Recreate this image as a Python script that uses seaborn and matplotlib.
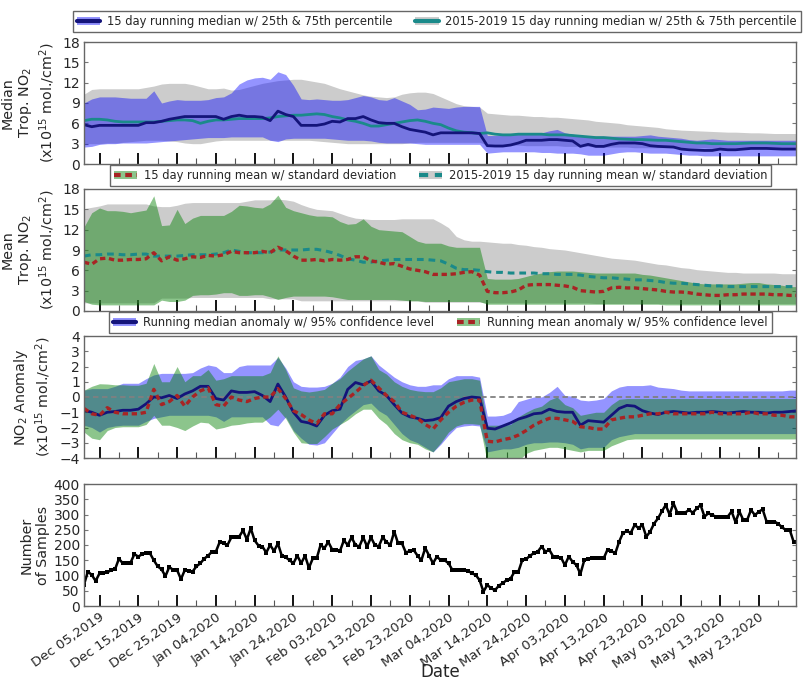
import numpy as np
import pandas as pd
import matplotlib
matplotlib.use("Agg")
import matplotlib.pyplot as plt
from matplotlib.patches import Patch
from matplotlib.lines import Line2D
import seaborn as sns

# ---------------------------------------------------------------- data
start = pd.Timestamp("2019-12-01")
dates = pd.date_range(start, periods=93, freq="2D")          # 15-day running stats, every 2nd day
count_dates = pd.date_range(start, periods=184, freq="D")    # daily sample counts

# Panel 1: running median and 25th/75th percentiles (x1e15 mol/cm2)
med_2020 = [5.8, 5.5, 5.7, 5.7, 5.7, 5.7, 5.7, 5.7, 6.1, 6.1, 6.3, 6.6, 6.8, 7.0, 7.0, 7.0, 7.0, 7.0, 6.6, 7.0,
            7.2, 7.0, 7.0, 6.9, 6.4, 7.8, 7.3, 7.0, 5.7, 5.7, 5.7, 5.9, 6.3, 6.2, 6.7, 6.7, 7.0, 6.5, 6.1, 6.0,
            6.0, 5.5, 5.1, 4.9,
            4.7, 4.3, 4.6, 4.6, 4.6, 4.6, 4.6, 4.5, 2.7, 2.65, 2.65, 2.8, 3.1, 3.5, 3.5, 3.5, 3.6, 3.6,
            3.5, 3.4, 2.6, 2.9, 2.6, 2.6, 2.9, 3.1, 3.1, 3.1, 3.0, 2.7, 2.6, 2.55, 2.5, 2.2, 2.1, 2.05, 2.0, 2.0,
            2.2, 2.1, 2.1, 2.2, 2.3, 2.3, 2.3, 2.25, 2.2, 2.2, 2.2]
q75_2020 = [9.0, 9.6, 9.9, 9.9, 9.9, 9.8, 9.7, 9.7, 9.7, 10.8, 9.0, 9.3, 9.5, 9.4, 9.4, 9.4, 9.5, 9.8, 9.9, 10.5,
            11.8, 12.4, 12.7, 12.8, 12.5, 13.6, 13.2, 11.6, 9.6, 9.5, 9.6, 9.5, 9.4, 9.4, 9.5, 9.8, 10.1, 9.9, 9.5, 9.4,
            9.8, 9.3, 8.8, 8.0,
            8.1, 8.4, 8.3, 8.2, 8.4, 8.5, 8.5, 8.5, 4.2, 4.2, 4.3, 4.3, 4.4, 4.4, 4.5, 4.6, 4.9, 5.1,
            4.6, 4.4, 4.2, 4.1, 4.1, 4.1, 4.1, 4.1, 4.1, 4.1, 4.2, 4.3, 4.1, 4.0, 3.9, 3.8, 3.6, 3.5, 3.6, 3.7,
            3.6, 3.5, 3.5, 3.5, 3.5, 3.5, 3.5, 3.5, 3.5, 3.5, 3.5]
q25_2020 = [2.5, 2.6, 2.9, 3.0, 3.0, 3.1, 3.1, 3.1, 3.1, 3.2, 3.3, 3.4, 3.5, 3.6, 3.7, 3.8, 3.9, 3.9, 3.9, 4.0,
            4.0, 4.0, 4.0, 4.0, 3.5, 3.3, 3.7, 3.8, 3.8, 3.8, 3.8, 3.8, 3.7, 3.6, 3.5, 3.5, 3.5, 3.4, 3.2, 3.1,
            3.1, 3.1, 3.1, 3.0,
            2.9, 2.9, 2.9, 2.9, 2.9, 2.9, 2.9, 2.9, 1.6, 1.7, 1.8, 1.8, 1.8, 1.8, 1.8, 1.7, 1.7, 1.6,
            1.6, 1.6, 1.5, 1.3, 1.3, 1.3, 1.5, 1.7, 1.8, 1.8, 1.7, 1.6, 1.6, 1.6, 1.5, 1.4, 1.3, 1.3, 1.2, 1.2,
            1.2, 1.2, 1.2, 1.2, 1.2, 1.2, 1.2, 1.2, 1.2, 1.2, 1.2]
med_clim = [6.4, 6.6, 6.6, 6.5, 6.3, 6.2, 6.2, 6.2, 6.2, 6.2, 6.3, 6.4, 6.5, 6.5, 6.4, 6.0, 6.3, 6.5, 6.5, 6.6,
            6.7, 6.7, 6.7, 6.7, 6.8, 7.0, 7.1, 7.2, 7.2, 7.3, 7.4, 7.3, 7.0, 6.8, 6.5, 6.3, 6.0, 5.6, 5.6, 5.8,
            6.0, 6.2, 6.4, 6.5,
            6.3, 6.0, 5.8, 5.3, 4.9, 4.7, 4.6, 4.5, 4.6, 4.4, 4.3, 4.3, 4.4, 4.4, 4.4, 4.4, 4.3, 4.3,
            4.3, 4.2, 4.1, 4.0, 3.9, 3.9, 3.8, 3.7, 3.65, 3.6, 3.6, 3.55, 3.5, 3.5, 3.4, 3.3, 3.2, 3.1, 3.1, 3.0,
            3.0, 3.0, 3.0, 3.05, 3.1, 3.1, 3.1, 3.05, 3.0, 3.0, 3.0]
q75_clim = [10.3, 11.0, 11.1, 11.1, 11.1, 11.1, 11.1, 11.1, 11.3, 11.5, 11.8, 11.9, 11.9, 11.9, 11.7, 11.4, 11.1, 11.1, 11.2, 10.9,
            11.0, 11.3, 11.6, 11.9, 12.1, 12.3, 12.4, 12.5, 12.5, 12.3, 12.1, 11.9, 11.5, 11.1, 10.8, 10.5, 10.2, 10.0, 9.9, 9.8,
            9.9, 10.3, 10.5, 10.6,
            10.6, 10.4, 9.9, 9.4, 8.9, 8.6, 8.5, 8.4, 7.5, 7.4, 7.3, 7.2, 7.2, 7.1, 7.0, 7.0, 6.9, 6.9,
            6.8, 6.7, 6.6, 6.5, 6.3, 6.2, 6.1, 6.0, 5.8, 5.7, 5.6, 5.5, 5.4, 5.2, 5.1, 5.0, 4.95, 4.9, 4.85, 4.8,
            4.75, 4.7, 4.7, 4.65, 4.6, 4.6, 4.55, 4.5, 4.5, 4.5, 4.5]
q25_clim = [3.0, 3.0, 3.0, 3.1, 3.1, 3.2, 3.3, 3.4, 3.5, 3.5, 3.5, 3.4, 3.3, 3.1, 3.0, 3.0, 3.2, 3.4, 3.5, 3.5,
            3.5, 3.5, 3.5, 3.5, 3.5, 3.5, 3.5, 3.5, 3.5, 3.5, 3.4, 3.3, 3.2, 3.1, 3.0, 3.0, 3.0, 3.0, 3.0, 3.0,
            3.0, 3.0, 3.1, 3.2,
            3.2, 3.2, 3.2, 3.2, 3.2, 3.2, 3.2, 3.2, 2.8, 2.8, 2.8, 2.8, 2.8, 2.7, 2.7, 2.7, 2.7, 2.7,
            2.6, 2.6, 2.6, 2.6, 2.5, 2.5, 2.5, 2.5, 2.5, 2.4, 2.4, 2.4, 2.4, 2.4, 2.4, 2.4, 2.4, 2.4, 2.4, 2.3,
            2.3, 2.3, 2.3, 2.3, 2.3, 2.3, 2.3, 2.3, 2.3, 2.3, 2.3]

# Panel 2: running mean and mean +/- standard deviation
mean_2020 = [7.2, 6.9, 7.7, 7.8, 7.5, 7.5, 7.6, 7.6, 7.7, 8.6, 7.4, 8.0, 7.5, 7.7, 8.0, 7.9, 8.2, 8.1, 8.3, 8.8,
             8.6, 8.6, 8.6, 8.8, 8.6, 9.4, 8.9, 8.1, 7.5, 7.5, 7.6, 7.4, 7.6, 7.5, 7.6, 8.0, 8.0, 7.4, 7.2, 6.9,
             7.0, 6.6, 6.2, 6.0,
             5.8, 5.4, 5.4, 5.4, 5.5, 5.7, 5.8, 5.3, 2.9, 2.7, 2.7, 2.8, 3.1, 3.8, 3.9, 3.9, 3.9, 3.8,
             3.7, 3.5, 3.0, 2.9, 2.8, 2.9, 3.4, 3.5, 3.4, 3.4, 3.3, 3.2, 3.1, 2.9, 2.8, 2.8, 2.7, 2.5, 2.4, 2.3,
             2.3, 2.4, 2.4, 2.5, 2.5, 2.5, 2.5, 2.4, 2.4, 2.3, 2.3]
mean_2020_hi = [12.4, 14.5, 15.2, 14.8, 14.8, 14.7, 14.5, 14.7, 14.9, 17.0, 12.6, 12.7, 15.0, 12.9, 13.7, 14.1, 14.1, 14.1, 14.1, 14.7,
                15.6, 15.5, 15.3, 15.2, 15.8, 17.1, 15.3, 14.8, 14.5, 14.2, 14.0, 14.0, 13.9, 13.2, 12.8, 12.9, 13.6, 12.5, 12.0, 11.9,
                11.8, 11.7, 11.0, 10.3,
                10.0, 10.0, 10.0, 9.6, 9.4, 9.4, 9.4, 9.4, 4.8, 4.7, 4.7, 4.7, 4.8, 5.1, 5.4, 5.6, 5.8, 5.9,
                5.9, 5.9, 5.8, 5.7, 5.6, 5.6, 5.6, 5.6, 5.6, 5.6, 5.4, 5.3, 5.1, 4.9, 4.7, 4.5, 4.3, 4.1, 4.0, 4.0,
                4.0, 4.0, 4.0, 4.1, 4.2, 4.2, 4.0, 3.9, 3.8, 3.6, 3.6]
mean_2020_lo = [1.4, 1.0, 0.9, 0.9, 0.9, 0.9, 0.9, 0.9, 0.9, 0.9, 1.6, 1.4, 1.4, 1.6, 2.3, 2.4, 2.4, 2.5, 2.7, 2.7,
                2.3, 2.3, 2.4, 2.4, 2.1, 1.7, 2.0, 2.2, 2.2, 2.2, 2.2, 2.2, 2.1, 1.9, 1.7, 1.7, 1.7, 1.7, 1.7, 1.7,
                1.7, 1.6, 1.5, 1.5,
                1.4, 1.4, 1.4, 1.4, 1.4, 1.4, 1.4, 1.4, 1.0, 1.0, 1.0, 1.0, 1.0, 1.0, 1.0, 1.0, 1.0, 1.0,
                1.0, 1.0, 1.0, 1.0, 1.0, 1.0, 1.0, 1.0, 1.0, 1.0, 1.0, 1.0, 1.0, 0.9, 0.9, 0.9, 0.9, 0.9, 0.9, 0.9,
                0.9, 0.9, 0.9, 0.9, 0.9, 0.9, 0.9, 0.9, 0.9, 0.9, 0.9]
mean_clim = [8.1, 8.3, 8.3, 8.4, 8.4, 8.3, 8.3, 8.4, 8.4, 8.1, 8.1, 8.1, 8.1, 8.2, 8.3, 8.3, 8.3, 8.4, 8.6, 9.0,
             8.8, 8.6, 8.6, 8.6, 8.7, 9.0, 9.0, 9.0, 9.0, 9.1, 9.1, 8.9, 8.6, 8.2, 7.7, 7.5, 7.2, 7.2, 7.4, 7.5,
             7.6, 7.6, 7.6, 7.6,
             7.6, 7.5, 7.4, 6.9, 6.3, 6.1, 6.1, 6.0, 5.8, 5.7, 5.7, 5.6, 5.6, 5.6, 5.6, 5.5, 5.5, 5.4,
             5.4, 5.4, 5.3, 5.1, 5.0, 4.9, 4.9, 4.8, 4.7, 4.6, 4.6, 4.5, 4.4, 4.2, 4.1, 4.1, 4.0, 3.9, 3.8, 3.7,
             3.7, 3.6, 3.6, 3.6, 3.6, 3.6, 3.6, 3.6, 3.6, 3.6, 3.6]
mean_clim_hi = [15.1, 15.3, 15.5, 15.8, 15.8, 15.8, 15.8, 15.8, 15.8, 15.5, 15.4, 15.4, 15.6, 15.9, 16.0, 16.0, 16.0, 16.0, 16.0, 16.0,
                16.0, 16.2, 16.4, 16.4, 16.4, 16.5, 16.4, 16.2, 15.7, 15.3, 15.0, 14.9, 14.8, 14.4, 14.0, 13.7, 13.6, 13.5, 13.5, 13.5,
                13.5, 13.6, 13.6, 13.6,
                13.6, 13.6, 13.0, 12.3, 11.0, 10.5, 10.3, 10.3, 10.2, 10.1, 10.0, 10.0, 9.8, 9.7, 9.5, 9.4, 9.2, 9.1,
                9.0, 8.8, 8.6, 8.4, 8.2, 8.0, 7.8, 7.7, 7.6, 7.5, 7.3, 7.1, 6.9, 6.8, 6.6, 6.4, 6.3, 6.1, 6.0, 5.9,
                5.8, 5.7, 5.7, 5.6, 5.6, 5.6, 5.6, 5.6, 5.5, 5.5, 5.5]
mean_clim_lo = [1.2, 1.2, 1.2, 1.2, 1.2, 1.2, 1.2, 1.2, 1.2, 1.2, 1.9, 1.9, 1.9, 1.9, 2.0, 2.0, 2.0, 2.0, 2.0, 2.0,
                2.0, 2.0, 2.0, 2.0, 1.8, 1.8, 1.8, 1.8, 1.5, 1.5, 1.5, 1.5, 1.5, 1.5, 1.5, 1.5, 1.5, 1.5, 1.5, 1.5,
                1.5, 1.5, 1.5, 1.5,
                1.3, 1.3, 1.3, 1.3, 1.3, 1.3, 1.3, 1.3, 1.2, 1.2, 1.2, 1.2, 1.2, 1.2, 1.2, 1.2, 1.2, 1.2,
                1.2, 1.2, 1.2, 1.2, 1.1, 1.1, 1.1, 1.1, 1.1, 1.1, 1.1, 1.1, 1.1, 1.1, 1.1, 1.1, 1.1, 1.1, 1.1, 1.1,
                1.1, 1.1, 1.1, 1.1, 1.1, 1.1, 1.1, 1.1, 1.1, 1.1, 1.1]

# Panel 3: anomalies (2020 minus 2015-2019) with 95% confidence level
med_anom = [-0.87, -1.0, -1.2, -1.0, -0.95, -0.87, -0.87, -0.8, -0.45, 0.0, -0.05, 0.1, -0.1, 0.2, 0.4, 0.7, 0.7, -0.1, -0.2, 0.4,
            0.3, 0.3, 0.35, 0.1, -0.3, 0.85, 0.0, -1.0, -1.6, -1.7, -1.9, -1.2, -0.9, -0.8, 0.5, 0.95, 0.8, 1.05, 0.4, 0.1,
            -0.5, -1.05, -1.3, -1.4,
            -1.55, -1.5, -1.35, -0.6, -0.3, -0.1, 0.0, -0.05, -2.05, -2.1, -1.9, -1.7, -1.45, -1.3, -1.1, -1.05, -0.8, -0.95,
            -1.0, -1.0, -1.85, -1.55, -1.6, -1.65, -1.2, -0.75, -0.55, -0.6, -0.9, -1.05, -1.15, -1.0, -0.95, -1.0, -1.05, -1.0, -1.0, -0.95,
            -1.0, -1.05, -1.0, -0.95, -1.0, -1.0, -1.05, -1.0, -1.0, -0.95, -0.9]
med_anom_hi = [0.45, 0.55, 0.55, 0.55, 0.7, 0.9, 0.9, 0.9, 1.2, 1.45, 1.55, 1.55, 1.55, 1.55, 1.6, 1.9, 2.1, 2.0, 1.6, 1.6,
               2.0, 2.1, 2.1, 2.1, 2.1, 2.6, 1.9, 1.0, 0.7, 0.65, 0.65, 0.7, 0.9, 1.3, 2.0, 2.4, 2.5, 2.7, 2.1, 1.7,
               1.3, 1.0, 0.8, 0.7,
               0.7, 0.8, 0.8, 1.2, 1.4, 1.4, 1.4, 1.3, -1.25, -1.25, -1.2, -1.0, -0.3, -0.15, 0.0, 0.0, 0.3, 0.7,
               0.1, 0.05, -0.2, -0.25, -0.2, -0.1, 0.4, 0.65, 0.75, 0.75, 0.75, 0.8, 0.65, 0.6, 0.55, 0.45, 0.4, 0.4, 0.4, 0.4,
               0.4, 0.4, 0.4, 0.4, 0.4, 0.4, 0.4, 0.4, 0.4, 0.45, 0.45]
med_anom_lo = [-1.85, -2.0, -2.3, -2.0, -1.9, -1.85, -1.85, -1.85, -1.6, -1.4, -1.3, -1.2, -1.2, -1.2, -1.2, -1.2, -1.2, -1.3, -1.6, -1.3,
               -1.3, -1.3, -1.3, -1.3, -1.8, -1.9, -1.3, -2.2, -2.7, -3.1, -3.15, -3.0, -2.4, -1.8, -1.3, -0.9, -0.5, -0.4, -0.9, -1.2,
               -1.8, -2.4, -2.8, -3.0,
               -3.3, -3.6, -3.1, -2.5, -2.0, -1.9, -1.85, -1.9, -3.6, -3.5, -3.4, -3.4, -3.3, -3.1, -3.0, -3.0, -2.95, -2.95,
               -3.0, -3.1, -3.4, -3.3, -3.3, -3.3, -2.8, -2.6, -2.5, -2.4, -2.4, -2.4, -2.4, -2.4, -2.4, -2.4, -2.4, -2.4, -2.4, -2.4,
               -2.4, -2.4, -2.4, -2.4, -2.4, -2.4, -2.4, -2.4, -2.4, -2.4, -2.4]
mean_anom = [-0.75, -1.1, -1.2, -0.7, -1.0, -1.1, -1.1, -1.1, -1.0, 0.5, -0.5, -0.3, 0.1, -0.6, 0.0, 0.4, 0.6, -0.5, -0.6, 0.0,
             -0.2, -0.3, -0.1, 0.0, 0.0, 0.55, -0.1, -0.9, -1.15, -1.5, -1.75, -1.1, -1.1, -0.5, -0.1, 0.3, 0.75, 1.1, 0.6, 0.1,
             -0.3, -1.0, -1.2, -1.4,
             -1.8, -2.1, -1.5, -1.0, -0.6, -0.35, -0.2, -0.2, -2.9, -2.95, -2.8, -2.7, -2.5, -2.2, -1.85, -1.6, -1.4, -1.4,
             -1.5, -1.6, -1.95, -2.0, -2.1, -2.1, -1.5, -1.4, -1.3, -1.3, -1.2, -1.1, -1.1, -1.0, -1.1, -1.1, -1.1, -1.1, -1.1, -1.0,
             -1.1, -1.1, -1.1, -1.1, -1.0, -1.1, -1.1, -1.2, -1.2, -1.3, -1.3]
mean_anom_hi = [0.45, 0.7, 0.87, 0.85, 0.8, 0.8, 0.77, 0.77, 0.9, 2.2, 1.0, 1.0, 2.0, 1.0, 1.4, 1.4, 1.8, 1.1, 1.2, 1.4,
                1.4, 1.4, 1.4, 1.4, 1.6, 2.7, 1.8, 0.6, 0.4, 0.33, 0.4, 0.5, 0.9, 1.2, 1.7, 2.1, 2.5, 2.7, 1.8, 1.5,
                1.0, 0.7, 0.5, 0.4,
                0.35, 0.35, 0.6, 1.0, 1.1, 1.2, 1.2, 1.1, -1.85, -1.85, -1.85, -1.8, -1.3, -1.0, -0.75, -0.6, -0.2, 0.0,
                -0.5, -0.7, -1.2, -1.1, -1.0, -1.0, -0.5, -0.15, -0.1, -0.1, -0.1, -0.1, -0.1, -0.1, -0.1, -0.1, -0.1, -0.1, -0.1, -0.1,
                -0.1, -0.1, -0.1, -0.1, -0.1, -0.1, -0.1, -0.1, -0.1, -0.1, -0.1]
mean_anom_lo = [-2.3, -2.7, -2.8, -2.2, -2.0, -1.95, -1.95, -1.95, -1.8, -1.2, -1.85, -1.85, -2.0, -2.2, -1.9, -1.65, -1.7, -2.1, -2.0, -1.85,
                -1.8, -1.7, -1.65, -1.65, -1.3, -0.8, -1.4, -2.3, -3.0, -3.05, -3.05, -2.6, -2.1, -1.8, -1.5, -1.1, -0.8, -0.8, -1.4, -1.8,
                -2.4, -2.8, -3.0, -3.1,
                -3.4, -3.6, -3.0, -2.3, -1.9, -1.75, -1.75, -1.8, -4.3, -4.3, -4.3, -4.3, -4.2, -3.7, -3.5, -3.4, -3.3, -3.3,
                -3.4, -3.5, -3.6, -3.5, -3.5, -3.5, -3.2, -3.0, -2.8, -2.75, -2.75, -2.75, -2.75, -2.75, -2.75, -2.75, -2.75, -2.75, -2.75, -2.75,
                -2.75, -2.75, -2.75, -2.75, -2.75, -2.75, -2.75, -2.75, -2.75, -2.75, -2.75]

# Panel 4: number of valid samples per day
n_samples = [70, 113, 102, 82, 107, 108, 110, 118, 120, 155, 140, 140, 142, 170, 162, 170, 173, 173, 150, 130,
             120, 98, 128, 118, 118, 88, 118, 115, 113, 130, 140, 155, 165, 178, 178, 210, 205, 200, 225, 226,
             227, 248, 218, 255, 215, 198, 195, 175, 200, 180, 205, 165, 160, 150, 140, 165, 140, 165, 125, 156,
             156, 200, 190, 210, 185, 182, 180, 215, 200, 225, 200, 195, 225, 195, 225, 200, 195, 225, 210, 200,
             244, 205, 205, 175, 180, 184, 165, 150, 190, 165, 140, 162, 150, 150, 140, 118, 118, 118, 118, 116,
             107, 102, 85, 47, 69, 58, 52, 67, 75, 85, 90, 112, 112, 150, 153, 165, 173, 178, 195, 178,
             184, 162, 161, 159, 134, 162, 145, 134, 105, 150, 155, 156, 156, 156, 156, 185, 180, 173, 211, 240,
             245, 240, 266, 255, 266, 227, 244, 270, 287, 310, 331, 300, 337, 306, 306, 306, 315, 306, 320, 331,
             293, 304, 298, 293, 293, 293, 293, 310, 275, 310, 282, 282, 315, 298, 309, 317, 277, 277, 277, 270,
             258, 249, 249, 210]

tick_dates = pd.date_range("2019-12-05", periods=18, freq="10D")
minor_dates = pd.date_range("2019-12-10", periods=18, freq="10D")
tick_labels = ["Dec 05,2019", "Dec 15,2019", "Dec 25,2019", "Jan 04,2020", "Jan 14,2020", "Jan 24,2020",
               "Feb 03,2020", "Feb 13,2020", "Feb 23,2020", "Mar 04,2020", "Mar 14,2020", "Mar 24,2020",
               "Apr 03,2020", "Apr 13,2020", "Apr 23,2020", "May 03,2020", "May 13,2020", "May 23,2020"]

# ---------------------------------------------------------------- style
sns.set_style("white")
plt.rcParams["font.family"] = ["DejaVu Sans"]
plt.rcParams["axes.edgecolor"] = "#666666"
plt.rcParams["axes.linewidth"] = 1.0

NAVY = "#14147a"
TEAL = "#1a8a8a"
RED = "#a82424"
BLUE_BAND = dict(color="blue", alpha=0.42, lw=0)
GREY_BAND = dict(color="grey", alpha=0.40, lw=0)
GREEN_BAND = dict(color="green", alpha=0.45, lw=0)
DOTS = (0, (1.6, 1.1))
DASH = (0, (2.2, 1.6))
YLAB = dict(fontsize=10.3, linespacing=1.2)

fig = plt.figure(figsize=(8.07, 6.82), dpi=100)
L, W, H = 84 / 807, 712 / 807, 122 / 682
bottoms = [1 - 164 / 682, 1 - 311 / 682, 1 - 458 / 682, 1 - 606 / 682]
axes = [fig.add_axes([L, b, W, H]) for b in bottoms]
ax1, ax2, ax3, ax4 = axes

# Panel 1 --------------------------------------------------------
ax1.fill_between(dates, q25_clim, q75_clim, **GREY_BAND)
ax1.fill_between(dates, q25_2020, q75_2020, **BLUE_BAND)
sns.lineplot(x=dates, y=med_clim, ax=ax1, color=TEAL, lw=2, errorbar=None, legend=False)
sns.lineplot(x=dates, y=med_2020, ax=ax1, color=NAVY, lw=2, errorbar=None, legend=False)
ax1.set_ylim(0, 18)
ax1.set_yticks(np.arange(0, 19, 3))
ax1.set_ylabel("Median\nTrop. NO$_2$\n(x10$^{15}$ mol./cm$^2$)", **YLAB)

# Panel 2 --------------------------------------------------------
ax2.fill_between(dates, mean_clim_lo, mean_clim_hi, **GREY_BAND)
ax2.fill_between(dates, mean_2020_lo, mean_2020_hi, **GREEN_BAND)
sns.lineplot(x=dates, y=mean_clim, ax=ax2, color=TEAL, lw=2.2, linestyle=DASH, errorbar=None, legend=False)
sns.lineplot(x=dates, y=mean_2020, ax=ax2, color=RED, lw=2.4, linestyle=DOTS, errorbar=None, legend=False)
ax2.set_ylim(0, 18)
ax2.set_yticks(np.arange(0, 19, 3))
ax2.set_ylabel("Mean\nTrop. NO$_2$\n(x10$^{15}$ mol./cm$^2$)", **YLAB)

# Panel 3 --------------------------------------------------------
ax3.fill_between(dates, med_anom_lo, med_anom_hi, **BLUE_BAND)
ax3.fill_between(dates, mean_anom_lo, mean_anom_hi, **GREEN_BAND)
ax3.axhline(0, color="grey", lw=1.3, linestyle=(0, (3, 2)))
sns.lineplot(x=dates, y=med_anom, ax=ax3, color=NAVY, lw=2, errorbar=None, legend=False)
sns.lineplot(x=dates, y=mean_anom, ax=ax3, color=RED, lw=2.4, linestyle=DOTS, errorbar=None, legend=False)
ax3.set_ylim(-4, 4)
ax3.set_yticks(np.arange(-4, 5, 1))
ax3.set_ylabel("NO$_2$ Anomaly\n(x10$^{15}$ mol./cm$^2$)", **YLAB)

# Panel 4 --------------------------------------------------------
sns.lineplot(x=count_dates, y=n_samples, ax=ax4, color="black", lw=1.8, marker="s", markersize=3.2,
             markeredgewidth=0, errorbar=None, legend=False)
ax4.set_ylim(0, 400)
ax4.set_yticks(np.arange(0, 401, 50))
ax4.set_ylabel("Number\nof Samples", **YLAB)

# shared axis cosmetics
for ax in axes:
    ax.set_xlim(start, start + pd.Timedelta(days=183.6))
    ax.set_xticks(tick_dates)
    ax.set_xticks(minor_dates, minor=True)
    ax.tick_params(axis="x", which="major", direction="in", length=8, width=1.3, color="black",
                   top=False, bottom=True, labelsize=9.5)
    ax.tick_params(axis="x", which="minor", direction="in", length=4, width=0.8, color="#555555",
                   top=False, bottom=True)
    ax.tick_params(axis="y", direction="in", length=3, width=0.8, color="#777777",
                   left=True, right=True, labelsize=10, pad=3)
    for sp in ax.spines.values():
        sp.set_color("#666666")
for ax in axes[:3]:
    ax.set_xticklabels([])
    ax.set_xlabel("")
ax4.set_xticklabels(tick_labels, rotation=35, ha="right", rotation_mode="anchor")
ax4.set_xlabel("Date", fontsize=12)
ax4.xaxis.set_label_coords(0.5, -0.465)

# right edge of each y-label block, in axes fraction
for ax, px in zip(axes, [57, 57, 53, 50]):
    ax.yaxis.set_label_coords((px - 84) / 712, 0.5)

# legends ---------------------------------------------------------
leg_kw = dict(ncol=2, loc="lower center", fontsize=8.3, frameon=True, fancybox=False,
              edgecolor="#666666", framealpha=1, borderpad=0.35, handlelength=2.0, handletextpad=0.6,
              columnspacing=2.0, borderaxespad=0, bbox_transform=fig.transFigure)


def handle(band, color, ls="-", lw=3):
    return (Patch(facecolor=band["color"], alpha=band["alpha"], lw=0),
            Line2D([], [], color=color, lw=lw, linestyle=ls))


legend_specs = [
    ([handle(BLUE_BAND, NAVY), handle(GREY_BAND, TEAL)],
     ["15 day running median w/ 25th & 75th percentile",
      "2015-2019 15 day running median w/ 25th & 75th percentile"], 437, 32),
    ([handle(GREEN_BAND, RED, DOTS), handle(GREY_BAND, TEAL, DASH)],
     ["15 day running mean w/ standard deviation",
      "2015-2019 15 day running mean w/ standard deviation"], 440.5, 186),
    ([handle(BLUE_BAND, NAVY), handle(GREEN_BAND, RED, DOTS)],
     ["Running median anomaly w/ 95% confidence level",
      "Running mean anomaly w/ 95% confidence level"], 440.5, 333),
]
for hs, labs, cx, by in legend_specs:
    lg = fig.legend(handles=hs, labels=labs, bbox_to_anchor=(cx / 807, 1 - by / 682), **leg_kw)
    lg.get_frame().set_linewidth(1.0)

fig.savefig("out.png", dpi=100)
